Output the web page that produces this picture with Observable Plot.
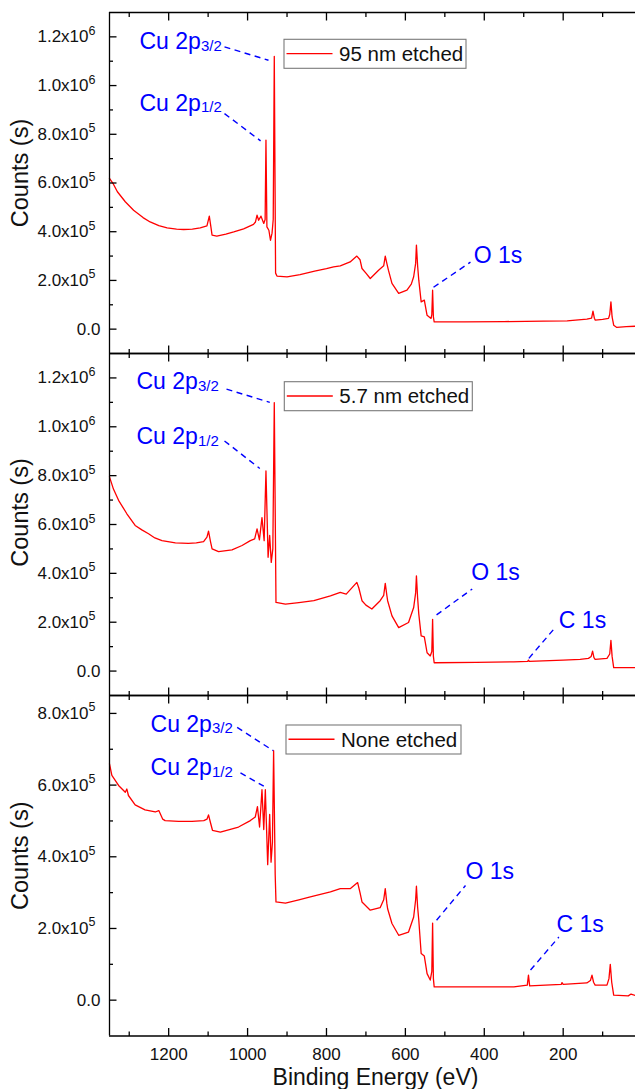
<!DOCTYPE html>
<html>
<head>
<meta charset="utf-8">
<script src="https://cdn.jsdelivr.net/npm/d3@7"></script>
<script src="https://cdn.jsdelivr.net/npm/@observablehq/plot@0.6"></script>
<style>
  html, body { margin: 0; padding: 0; background: #fff; overflow: hidden; }
  #chart { position: relative; width: 635px; height: 1089px; }
  #chart svg { position: absolute; left: 0; }
</style>
</head>
<body>
<div id="chart"></div>
<script>
// ---------------- DATA ----------------
// Binding energy (eV) and counts (units of 1e5)
const energy95 = [1350,1340,1330,1310,1289,1265,1247,1225,1204,1180,1162,1140,1120,1103,1097,1093,1090,1078,1055,1035,1010,985,980,976,972,966,959,955.5,953.4,951,946,942,938,935,932.3,929,925.5,900,867,830,800,782,765,740,723,715,710,700,689,668,655,651,647,643,634,617,596,585,579,574,572,569,566,560,552,545,535,533,531,529,527,450,350,250,190,140,128,124.5,121,118.6,100,85,82,79,76,72,64,40,17];
const counts95 = [6.19,5.95,5.64,5.23,4.88,4.58,4.40,4.25,4.16,4.11,4.09,4.11,4.16,4.24,4.64,4.2,3.86,3.82,3.90,3.99,4.12,4.30,4.40,4.68,4.47,4.64,4.34,4.5,7.76,4.20,4.06,3.65,3.94,4.5,11.2,2.30,2.18,2.15,2.24,2.38,2.48,2.56,2.60,2.76,3.0,2.85,2.49,2.3,2.08,2.42,2.6,3.0,2.7,2.42,1.88,1.47,1.60,1.85,2.15,2.7,3.45,2.6,2.01,1.12,1.19,0.57,0.44,0.6,1.60,0.5,0.30,0.30,0.31,0.33,0.34,0.41,0.45,0.74,0.45,0.37,0.40,0.44,0.6,1.12,0.5,0.16,0.07,0.10,0.12];

const energy57 = [1350,1340,1327,1306,1285,1268,1251,1235,1217,1183,1150,1130,1111.5,1103,1099,1094,1090,1073.5,1039.5,1014,993,982,976,970,963.5,958,953.4,948,944,940,936,932.3,928,904,870,832,790,765,750,723,718,710,700,685,664,655,651,647,645,634,617,592,579,574,572,569,566,560,552,545,537,533,531,529,527,420,325,290,288,286,200,157,136,129,125.5,122,119,89,82,79,76,72,17];
const counts57 = [7.95,7.45,6.99,6.44,5.96,5.78,5.62,5.45,5.34,5.25,5.23,5.25,5.30,5.48,5.73,5.3,5.00,4.89,4.96,5.14,5.34,5.41,5.82,5.37,6.28,5.34,8.19,4.66,5.55,4.45,5.0,10.99,2.81,2.74,2.80,2.88,3.08,3.22,3.15,3.63,3.4,2.88,2.7,2.54,2.88,3.1,3.59,3.1,2.88,2.26,1.78,1.99,2.60,3.2,3.90,3.0,2.33,1.44,1.40,0.75,0.62,0.8,2.12,0.6,0.34,0.36,0.38,0.40,0.45,0.40,0.45,0.48,0.52,0.6,0.82,0.55,0.48,0.52,0.7,1.26,0.6,0.14,0.14];

const energyNone = [1350,1344,1327,1310,1306,1302,1285,1260,1234,1225,1215,1209,1175,1141,1111,1103,1099,1094,1089,1069,1023,993,980.5,975,969.6,963.5,959,955,949,944,940.5,937,934,930,928,904,870,841,790,765,740,721,715,710,689,664,655,651,647,645,634,617,592,579,574,572,569,566,560,552,545,537,533,531,529,527,420,325,291,288,285,205,203,200,140,131,127,123,119,89,84,80.6,77,72,35,28,17];
const countsNone = [6.59,6.27,5.99,5.80,5.89,5.71,5.45,5.31,5.25,5.29,5.05,5.01,4.99,4.99,5.01,5.05,5.17,4.95,4.74,4.69,4.83,5.01,5.11,5.40,4.83,5.87,4.76,5.87,3.78,5.18,3.85,4.4,6.96,3.5,2.74,2.71,2.80,2.88,3.02,3.11,3.11,3.28,3.0,2.74,2.51,2.58,2.8,3.11,2.7,2.55,2.14,1.81,1.90,2.32,2.8,3.18,2.6,2.23,1.30,1.23,0.74,0.56,0.8,2.15,0.6,0.37,0.37,0.37,0.42,0.70,0.40,0.44,0.49,0.44,0.48,0.55,0.70,0.5,0.42,0.42,0.6,1.00,0.5,0.14,0.12,0.17,0.13];

const seriesNames = ["95 nm etched", "5.7 nm etched", "None etched"];

// Axes
const xDomain = [1350, 16.7];
const xMajor = [1200, 1000, 800, 600, 400, 200];
const xMinor = [1300, 1100, 900, 700, 500, 300, 100];
const xTitle = "Binding Energy (eV)";
const yTitle = "Counts (s)";

const yDomainTop = [-1e5, 1.3e6];
const yMajorTop = [0, 2e5, 4e5, 6e5, 8e5, 1e6, 1.2e6];
const yMantTop = ["0.0", "2.0x10", "4.0x10", "6.0x10", "8.0x10", "1.0x10", "1.2x10"];
const yExpTop = ["", "5", "5", "5", "5", "6", "6"];
const yMinorTop = [1e5, 3e5, 5e5, 7e5, 9e5, 1.1e6];

const yDomainBottom = [-1e5, 8.5e5];
const yMajorBottom = [0, 2e5, 4e5, 6e5, 8e5];
const yMantBottom = ["0.0", "2.0x10", "4.0x10", "6.0x10", "8.0x10"];
const yExpBottom = ["", "5", "5", "5", "5"];
const yMinorBottom = [1e5, 3e5, 5e5, 7e5];

// Peak annotations: label, subscript, anchor (energy, counts), leader line ends
const annLabel95 = ["Cu 2p", "Cu 2p", "O 1s"];
const annSub95 = ["3/2", "1/2", ""];
const annE95 = [1274, 1274, 427];
const annC95 = [1.149e6, 0.896e6, 0.270e6];
const leaderE1_95 = [1058.5, 1058.5, 528.7], leaderC1_95 = [1.159e6, 0.885e6, 0.172e6];
const leaderE2_95 = [947, 967, 435], leaderC2_95 = [1.104e6, 0.773e6, 0.275e6];

const annLabel57 = ["Cu 2p", "Cu 2p", "O 1s", "C 1s"];
const annSub57 = ["3/2", "1/2", "", ""];
const annE57 = [1281.6, 1281.6, 433, 211];
const annC57 = [1.154e6, 0.929e6, 0.373e6, 0.178e6];
const leaderE1_57 = [1053.4, 1058.5, 521, 287], leaderC1_57 = [1.154e6, 0.942e6, 0.230e6, 0.052e6];
const leaderE2_57 = [943.7, 969, 430.6, 222], leaderC2_57 = [1.100e6, 0.829e6, 0.336e6, 0.175e6];

const annLabelNone = ["Cu 2p", "Cu 2p", "O 1s", "C 1s"];
const annSubNone = ["3/2", "1/2", "", ""];
const annENone = [1246, 1246, 447.6, 216.9];
const annCNone = [0.749e6, 0.627e6, 0.339e6, 0.190e6];
const leaderE1_None = [1026.4, 1018, 521, 282.8], leaderC1_None = [0.761e6, 0.634e6, 0.223e6, 0.084e6];
const leaderE2_None = [935, 959, 447.6, 211], leaderC2_None = [0.696e6, 0.597e6, 0.320e6, 0.176e6];

// ---------------- RENDER ----------------
const FONT = "'Liberation Sans', Arial, Helvetica, sans-serif";
const RED = "#ff0000", BLUE = "#0000ff", INK = "#111";
const WIDTH = 635, ML = 109;

function buildPanel(cfg) {
  const data = cfg.energy.map((e, i) => ({E: e, c: cfg.counts[i] * 1e5}));
  const ann = cfg.annLabel.map((l, i) => ({label: l, sub: cfg.annSub[i], E: cfg.annE[i], c: cfg.annC[i]}));
  const leaders = cfg.l1E.map((e, i) => ({x1: e, y1: cfg.l1C[i], x2: cfg.l2E[i], y2: cfg.l2C[i]}));
  const ticks = cfg.yMajor;

  // tick lengths (pixels) converted to data units so ticks are drawn as links
  const fh = cfg.height - cfg.marginTop - cfg.marginBottom;
  const fw = WIDTH - ML;
  const yPerPx = (cfg.yDomain[1] - cfg.yDomain[0]) / fh;
  const xPerPx = (xDomain[0] - xDomain[1]) / fw;
  const xTicks = [...xMajor.map(v => ({v, len: 8})), ...xMinor.map(v => ({v, len: 4.5}))];
  const yTicks = [...cfg.yMajor.map(v => ({v, len: 7})), ...cfg.yMinor.map(v => ({v, len: 3.5}))];
  const yTop = cfg.yDomain[1], yBot = cfg.yDomain[0], xLeft = xDomain[0];
  const tk = {stroke: "#000", strokeWidth: 1.3};

  const marks = [
    // y tick labels with superscript exponents
    Plot.text(ticks, {filter: (d, i) => cfg.yExp[i] === "", y: d => d, text: (d, i) => cfg.yMant[i], frameAnchor: "left", textAnchor: "end", dx: -9, fontSize: 17, fill: INK}),
    Plot.text(ticks, {filter: (d, i) => cfg.yExp[i] !== "", y: d => d, text: (d, i) => cfg.yMant[i], frameAnchor: "left", textAnchor: "end", dx: -21, fontSize: 17, fill: INK}),
    Plot.text(ticks, {filter: (d, i) => cfg.yExp[i] !== "", y: d => d, text: (d, i) => cfg.yExp[i], frameAnchor: "left", textAnchor: "start", dx: -21, dy: -6, fontSize: 12.5, fill: INK}),
    // y title
    Plot.text([yTitle], {frameAnchor: "left", rotate: -90, dx: -82, dy: cfg.titleDy, lineAnchor: "bottom", textAnchor: "middle", fontSize: 23.5, fill: INK}),
    // spectrum
    Plot.line(data, {x: "E", y: "c", stroke: RED, strokeWidth: 1.3}),
    // annotations
    Plot.link(leaders, {x1: "x1", y1: "y1", x2: "x2", y2: "y2", stroke: BLUE, strokeWidth: 1.4, strokeDasharray: "6,4.5"}),
    Plot.text(ann, {x: "E", y: "c", text: "label", textAnchor: "start", lineAnchor: "bottom", fontSize: 23, fill: BLUE}),
    Plot.text(ann, {x: "E", y: "c", text: "sub", textAnchor: "start", lineAnchor: "bottom", fontSize: 15, dx: 61.5, dy: 1.5, fill: BLUE}),
    // frame (left, top, bottom)
    Plot.ruleY(cfg.yDomain, {stroke: "#000", strokeWidth: 1.3}),
    Plot.ruleX([xLeft], {stroke: "#000", strokeWidth: 1.3}),
    // inward ticks drawn as links: top, bottom, left
    Plot.link(xTicks, {x1: d => d.v, x2: d => d.v, y1: () => yTop, y2: d => yTop - d.len * yPerPx, ...tk}),
    Plot.link(xTicks, {x1: d => d.v, x2: d => d.v, y1: () => yBot, y2: d => yBot + d.len * yPerPx, ...tk}),
    Plot.link(yTicks, {x1: () => xLeft, x2: d => xLeft - d.len * xPerPx, y1: d => d.v, y2: d => d.v, ...tk})
  ];
  if (cfg.showX) {
    marks.push(Plot.axisX({anchor: "bottom", ticks: xMajor, tickSize: 0, tickPadding: 12, tickFormat: "d", fontSize: 17, label: null, fill: INK}));
    marks.push(Plot.text([xTitle], {frameAnchor: "bottom", dx: 3, dy: 48.5, lineAnchor: "bottom", fontSize: 23, fill: INK}));
  } else {
    marks.push(Plot.axisX({anchor: "bottom", ticks: [], label: null}));
  }
  marks.push(Plot.axisY({anchor: "left", ticks: [], label: null}));
  const svg = Plot.plot({
    width: WIDTH,
    height: cfg.height,
    marginLeft: ML,
    marginRight: 0,
    marginTop: cfg.marginTop,
    marginBottom: cfg.marginBottom,
    x: {domain: xDomain, label: null},
    y: {domain: cfg.yDomain, label: null},
    style: {fontFamily: FONT, fontSize: "17px", background: "transparent", overflow: "visible", color: INK},
    marks
  });
  svg.style.top = cfg.top + "px";
  // legend box
  const lg = cfg.legend;
  const g = d3.select(svg).append("g");
  g.append("rect").attr("x", lg.x).attr("y", lg.y).attr("width", lg.w).attr("height", 29)
    .attr("fill", "#fff").attr("stroke", "#7a7a7a").attr("stroke-width", 1.1);
  g.append("line").attr("x1", lg.x + 2.5).attr("x2", lg.x + 48.5).attr("y1", lg.y + 14.3).attr("y2", lg.y + 14.3)
    .attr("stroke", RED).attr("stroke-width", 1.4);
  g.append("text").attr("x", lg.x + 55).attr("y", lg.y + 21.6).attr("font-size", 20.5).attr("fill", INK)
    .attr("text-anchor", "start").attr("font-family", FONT).text(lg.label);
  return svg;
}

const panels = [
  {
    energy: energy95, counts: counts95, yDomain: yDomainTop, yMajor: yMajorTop, yMant: yMantTop, yExp: yExpTop, yMinor: yMinorTop,
    annLabel: annLabel95, annSub: annSub95, annE: annE95, annC: annC95,
    l1E: leaderE1_95, l1C: leaderC1_95, l2E: leaderE2_95, l2C: leaderC2_95,
    top: 0, height: 353, marginTop: 12, marginBottom: 0, titleDy: -10,
    legend: {x: 284, y: 39.3, w: 182, label: seriesNames[0]}, showX: false
  },
  {
    energy: energy57, counts: counts57, yDomain: yDomainTop, yMajor: yMajorTop, yMant: yMantTop, yExp: yExpTop, yMinor: yMinorTop,
    annLabel: annLabel57, annSub: annSub57, annE: annE57, annC: annC57,
    l1E: leaderE1_57, l1C: leaderC1_57, l2E: leaderE2_57, l2C: leaderC2_57,
    top: 353, height: 342, marginTop: 0, marginBottom: 0, titleDy: -12,
    legend: {x: 284.3, y: 28.7, w: 188, label: seriesNames[1]}, showX: false
  },
  {
    energy: energyNone, counts: countsNone, yDomain: yDomainBottom, yMajor: yMajorBottom, yMant: yMantBottom, yExp: yExpBottom, yMinor: yMinorBottom,
    annLabel: annLabelNone, annSub: annSubNone, annE: annENone, annC: annCNone,
    l1E: leaderE1_None, l1C: leaderC1_None, l2E: leaderE2_None, l2C: leaderC2_None,
    top: 695, height: 394, marginTop: 0, marginBottom: 53.5, titleDy: -10,
    legend: {x: 286, y: 30, w: 175, label: seriesNames[2]}, showX: true
  }
];

const chart = document.getElementById("chart");
for (const p of panels) chart.appendChild(buildPanel(p));
</script>
</body>
</html>
